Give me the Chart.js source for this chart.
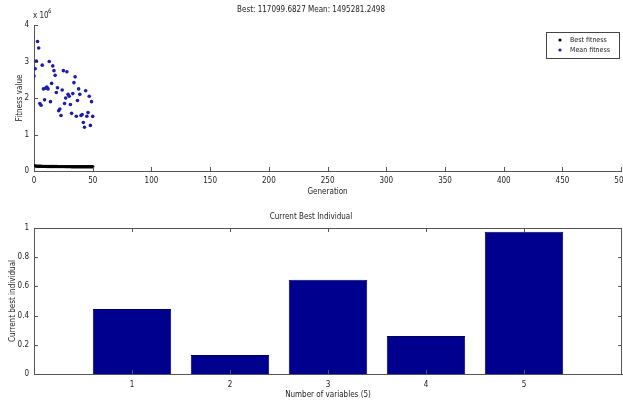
<!DOCTYPE html>
<html>
<head>
<meta charset="utf-8">
<script src="https://cdn.jsdelivr.net/npm/chart.js@4.4.1/dist/chart.umd.min.js"></script>
<style>
  html, body { margin: 0; padding: 0; background: #fff; }
  #wrap { position: relative; width: 623px; height: 404px; overflow: hidden; background: #fff; }
  canvas { position: absolute; left: 0; }
  #c1 { top: 0; }
  #c2 { top: 205px; }
</style>
</head>
<body>
<div id="wrap">
  <canvas id="c1" width="623" height="205"></canvas>
  <canvas id="c2" width="623" height="199"></canvas>
</div>
<script>
// ---- data (top plot) ----
const generations = [0,1,2,3,4,5,6,7,8,9,10,11,12,13,14,15,16,17,18,19,20,21,22,23,24,25,26,27,28,29,30,31,32,33,34,35,36,37,38,39,40,41,42,43,44,45,46,47,48,49,50];
// fitness values in units of 1e6
const meanFitness = [2.60,2.80,3.01,3.55,3.37,1.85,1.80,2.90,2.25,1.95,2.27,2.30,2.25,3.00,1.90,2.40,2.88,2.75,2.62,2.15,2.28,1.65,1.70,1.52,2.22,2.75,1.85,2.00,2.72,2.10,2.05,1.82,1.58,2.12,2.42,2.58,1.50,1.93,2.25,2.10,1.52,1.55,1.33,1.20,2.20,1.50,1.60,2.05,1.25,1.90,1.495281];
const bestFitness = [0.140,0.136,0.134,0.132,0.131,0.130,0.129,0.128,0.127,0.126,0.126,0.125,0.125,0.124,0.124,0.123,0.123,0.122,0.122,0.122,0.121,0.121,0.121,0.120,0.120,0.120,0.120,0.119,0.119,0.119,0.119,0.119,0.118,0.118,0.118,0.118,0.118,0.118,0.118,0.118,0.117,0.117,0.117,0.117,0.117,0.117,0.117,0.117,0.117,0.117,0.1170997];
const fitnessScale = 1e6;
const xTicksTop = [0,50,100,150,200,250,300,350,400,450,500];
const yTicksTop = [0,1,2,3,4];
const topTitle = 'Best: 117099.6827 Mean: 1495281.2498';
const legendLabels = ['Best fitness', 'Mean fitness'];

// ---- data (bottom plot) ----
const variables = [1,2,3,4,5];
const bestIndividual = [0.445,0.13,0.645,0.26,0.975];
const yTicksBottom = [0,0.2,0.4,0.6,0.8,1];
const bottomTitle = 'Current Best Individual';

const FONT = '"Liberation Sans Narrow", "DejaVu Sans Condensed", "Liberation Sans", sans-serif';
const TXT = '#222';
const AX = '#555';
const f8 = { family: FONT, size: 8, weight: 'normal' };
const MEAN_COLOR = '#1c1ca8';

// inward ticks + optional box plugin
function tickPlugin(opts) {
  return {
    id: 'matlabTicks',
    afterDraw(chart) {
      const { ctx, chartArea: a, scales } = chart;
      ctx.save();
      ctx.strokeStyle = AX;
      ctx.lineWidth = 1;
      if (opts.box) {
        ctx.strokeRect(Math.round(a.left) + 0.5, Math.round(a.top) + 0.5, Math.round(a.right - a.left) - 1, Math.round(a.bottom - a.top));
      }
      const L = 4;
      ctx.beginPath();
      opts.xTicks.forEach(v => {
        const px = Math.round(scales.x.getPixelForValue(v)) + 0.5;
        ctx.moveTo(px, a.bottom); ctx.lineTo(px, a.bottom - L);
        if (opts.box) { ctx.moveTo(px, a.top); ctx.lineTo(px, a.top + L); }
      });
      opts.yTicks.forEach(v => {
        const py = Math.round(scales.y.getPixelForValue(v)) + 0.5;
        ctx.moveTo(a.left, py); ctx.lineTo(a.left + L, py);
        if (opts.box) { ctx.moveTo(a.right, py); ctx.lineTo(a.right - L, py); }
      });
      ctx.stroke();
      if (opts.extra) opts.extra(chart);
      ctx.restore();
    }
  };
}

function topExtras(chart) {
  const { ctx } = chart;
  // exponent label
  ctx.fillStyle = TXT;
  ctx.textBaseline = 'alphabetic';
  ctx.textAlign = 'left';
  ctx.font = '8px ' + FONT;
  ctx.fillText('x 10', 33, 18);
  ctx.font = '6px ' + FONT;
  ctx.fillText('6', 48, 13);
  // legend box
  const bx = 546, by = 32, bw = 73, bh = 26;
  ctx.fillStyle = '#fff';
  ctx.fillRect(bx, by, bw, bh);
  ctx.strokeStyle = '#444';
  ctx.strokeRect(bx + 0.5, by + 0.5, bw, bh);
  const colors = ['#000', MEAN_COLOR];
  legendLabels.forEach((lab, i) => {
    const y = by + 8 + i * 10;
    ctx.fillStyle = colors[i];
    ctx.beginPath(); ctx.arc(560, y, 1.6, 0, Math.PI * 2); ctx.fill();
    ctx.fillStyle = TXT;
    ctx.font = '7px ' + FONT;
    ctx.textBaseline = 'middle';
    ctx.fillText(lab, 570, y);
  });
}

new Chart(document.getElementById('c1'), {
  type: 'scatter',
  data: {
    datasets: [
      { label: legendLabels[0], data: generations.map((g, i) => ({ x: g, y: bestFitness[i] * fitnessScale })),
        backgroundColor: '#000', borderColor: '#000', pointRadius: 1.7, borderWidth: 0, pointHoverRadius: 0 },
      { label: legendLabels[1], data: generations.map((g, i) => ({ x: g, y: meanFitness[i] * fitnessScale })),
        backgroundColor: MEAN_COLOR, borderColor: MEAN_COLOR, pointRadius: 1.8, borderWidth: 0, pointHoverRadius: 0 }
    ]
  },
  options: {
    responsive: false, animation: false, devicePixelRatio: 1,
    layout: { padding: { top: 0, right: 1, left: 0, bottom: 0 } },
    plugins: {
      legend: { display: false }, tooltip: { enabled: false },
      title: { display: true, text: topTitle, font: f8, color: TXT, padding: { top: 5, bottom: 10.4 } }
    },
    scales: {
      x: {
        type: 'linear', min: 0, max: 500,
        afterBuildTicks(s) { s.ticks = xTicksTop.map(v => ({ value: v })); },
        ticks: { font: f8, color: TXT, padding: 5, maxRotation: 0, autoSkip: false },
        grid: { display: false, drawTicks: false },
        border: { display: true, color: AX },
        title: { display: true, text: 'Generation', font: f8, color: TXT, padding: { top: 0, bottom: 8 } },
        afterFit(s) { s.height = 34; s.paddingRight = 0; s.paddingLeft = 0; }
      },
      y: {
        min: 0, max: 4 * fitnessScale,
        afterBuildTicks(s) { s.ticks = yTicksTop.map(v => ({ value: v * fitnessScale })); },
        ticks: { font: f8, color: TXT, padding: 5, callback: v => String(v / fitnessScale) },
        grid: { display: false, drawTicks: false },
        border: { display: true, color: AX },
        title: { display: true, text: 'Fitness value', font: f8, color: TXT, padding: { top: 15, bottom: 0 } },
        afterFit(s) { s.width = 34; }
      }
    }
  },
  plugins: [tickPlugin({ box: false, xTicks: xTicksTop, yTicks: yTicksTop.map(v => v * fitnessScale), extra: topExtras })]
});

new Chart(document.getElementById('c2'), {
  type: 'bar',
  data: {
    datasets: [{
      data: variables.map((v, i) => ({ x: v, y: bestIndividual[i] })),
      backgroundColor: '#00008f', borderColor: '#000060', borderWidth: 1,
      categoryPercentage: 1, barPercentage: 0.8
    }]
  },
  options: {
    responsive: false, animation: false, devicePixelRatio: 1,
    layout: { padding: { top: 0, right: 1, left: 0, bottom: 0 } },
    plugins: {
      legend: { display: false }, tooltip: { enabled: false },
      title: { display: true, text: bottomTitle, font: f8, color: TXT, padding: { top: 7, bottom: 6.4 } }
    },
    scales: {
      x: {
        type: 'linear', min: 0, max: 6, offset: false,
        afterBuildTicks(s) { s.ticks = variables.map(v => ({ value: v })); },
        ticks: { font: f8, color: TXT, padding: 6, maxRotation: 0, autoSkip: false },
        grid: { display: false, drawTicks: false, offset: false },
        border: { display: true, color: AX },
        title: { display: true, text: 'Number of variables (5)', font: f8, color: TXT, padding: { top: 0, bottom: 4 } },
        afterFit(s) { s.height = 30; s.paddingRight = 0; s.paddingLeft = 0; }
      },
      y: {
        min: 0, max: 1,
        afterBuildTicks(s) { s.ticks = yTicksBottom.map(v => ({ value: v })); },
        ticks: { font: f8, color: TXT, padding: 5, callback: v => String(v) },
        grid: { display: false, drawTicks: false },
        border: { display: true, color: AX },
        title: { display: true, text: 'Current best individual', font: f8, color: TXT, padding: { top: 8, bottom: 0 } },
        afterFit(s) { s.width = 34; }
      }
    }
  },
  plugins: [tickPlugin({ box: true, xTicks: variables, yTicks: yTicksBottom })]
});
</script>
</body>
</html>
